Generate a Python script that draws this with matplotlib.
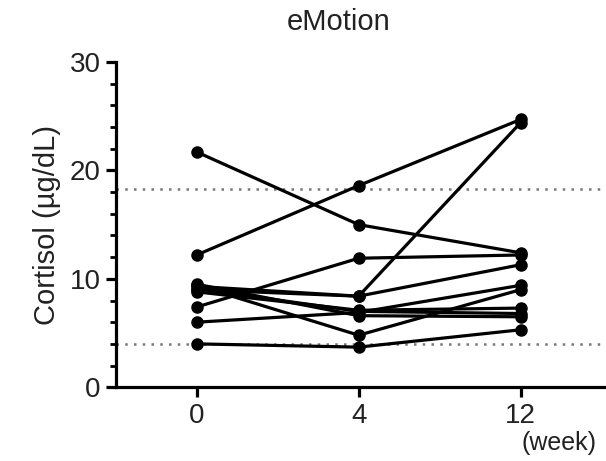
import matplotlib
matplotlib.use("Agg")
import matplotlib.pyplot as plt
from matplotlib.ticker import MultipleLocator

plt.rcParams['font.family'] = ['Liberation Sans', 'DejaVu Sans']

weeks = ["0", "4", "12"]
# cortisol (ug/dL) per subject at week 0, 4, 12
subjects = [
    [21.7, 15.0, 12.4],
    [12.2, 18.6, 24.7],
    [9.3, 8.4, 24.4],
    [7.4, 11.9, 12.2],
    [9.4, 4.8, 9.0],
    [4.0, 3.7, 5.3],
    [9.0, 8.4, 11.3],
    [6.0, 6.9, 9.4],
    [8.8, 7.1, 7.3],
    [9.5, 6.6, 6.5],
    [9.1, 7.0, 6.8],
]
ref_upper = 18.3
ref_lower = 4.0

fig = plt.figure(figsize=(6.06, 4.61), dpi=100)
ax = fig.add_axes([0.191, 0.16, 0.807, 0.7055])

xs = range(len(weeks))
for s in subjects:
    ax.plot(xs, s, 'k-o', lw=2.3, ms=8, zorder=3)

ax.axhline(ref_upper, color='#777777', ls=(0, (1, 2.5)), lw=1.8, zorder=1)
ax.axhline(ref_lower, color='#777777', ls=(0, (1, 2.5)), lw=1.8, zorder=1)

ax.set_xlim(-0.5, 2.52)
ax.set_ylim(0, 30)
ax.set_xticks(list(xs))
ax.set_xticklabels(weeks)
ax.set_yticks([0, 10, 20, 30])
ax.yaxis.set_minor_locator(MultipleLocator(2))

for side in ['top', 'right']:
    ax.spines[side].set_visible(False)
for side in ['left', 'bottom']:
    ax.spines[side].set_linewidth(2.3)

ax.tick_params(axis='both', which='major', direction='out', width=2.3, length=7,
               labelsize=20, color='black', pad=4, labelcolor='#222222')
ax.tick_params(axis='y', which='minor', direction='out', width=2, length=4)
ax.set_ylabel("Cortisol (µg/dL)", fontsize=21, labelpad=6, color='#222222')

fig.text(0.558, 0.952, "eMotion", fontsize=21, ha='center', va='center', color='#222222')
fig.text(0.922, 0.04, "(week)", fontsize=18, ha='center', va='center', color='#222222')

fig.savefig("out.png", dpi=100)
